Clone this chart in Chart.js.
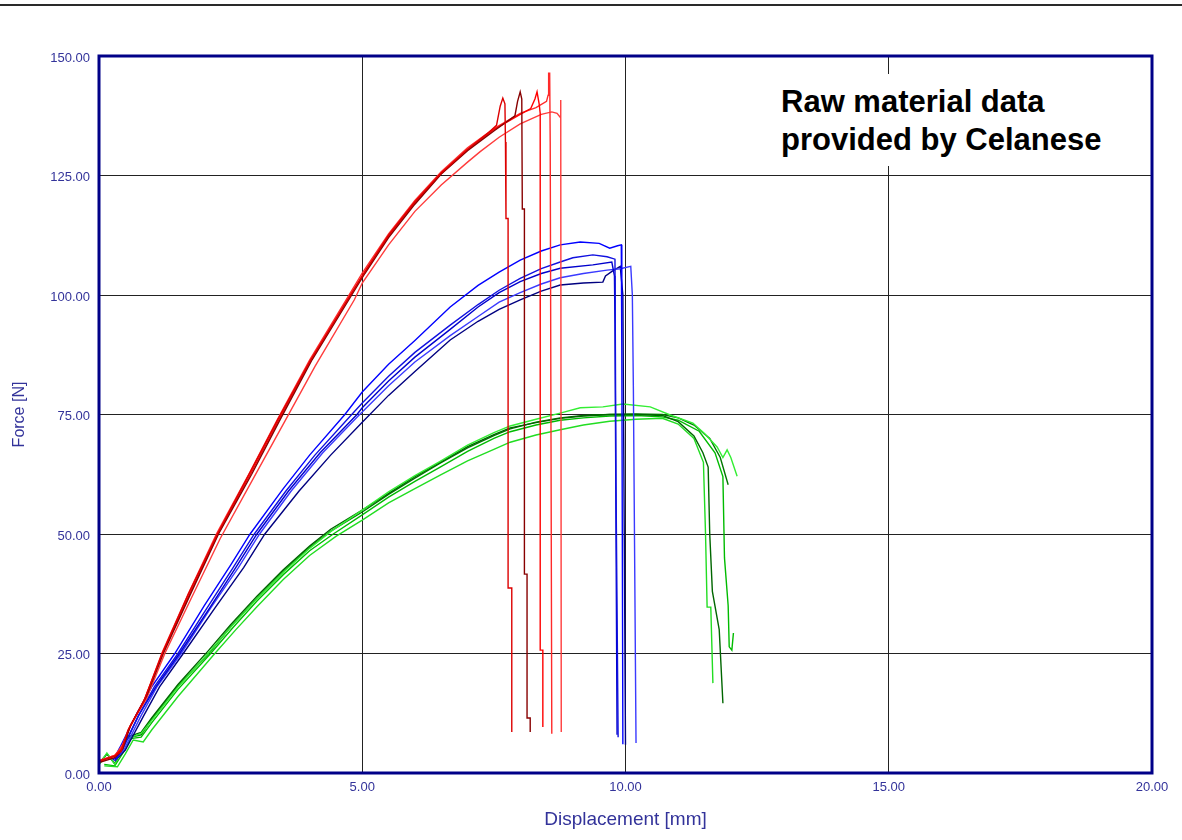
<!DOCTYPE html>
<html>
<head>
<meta charset="utf-8">
<script src="https://cdn.jsdelivr.net/npm/chart.js@4.4.0/dist/chart.umd.min.js"></script>
<style>
  html, body { margin: 0; padding: 0; background: #fff; }
  #wrap { position: relative; width: 1182px; height: 840px; overflow: hidden; }
  #topline { position: absolute; left: 0; top: 4px; width: 1182px; height: 2px; background: #2a2a2a; }
  #note {
    position: absolute; left: 772px; top: 74px; width: 350px; height: 92px;
    padding: 9px 0 0 9px; box-sizing: border-box; background: #fff;
    font: bold 31px "Liberation Sans", Arial, sans-serif; line-height: 38px; color: #000;
  }
</style>
</head>
<body>
<div id="wrap">
  <canvas id="chart" width="1182" height="840"></canvas>
  <div id="topline"></div>
  <div id="note">Raw material data<br>provided by Celanese</div>
</div>
<script>
// axis ticks
const xTicks = [0, 5, 10, 15, 20];
const yTicks = [0, 25, 50, 75, 100, 125, 150];

// red specimens [displacement mm, force N]
const redA = [[0,2.5],[0.3,3.5],[0.42,4.5],[0.55,9],[0.85,15],[1.2,25],[1.7,37.5],[2.25,50],[2.85,62.5],[3.4,74],[4.0,86],[4.75,99.5],[5.0,104],[5.5,112.5],[6.0,119.5],[6.5,125.5],[7.0,130.5],[7.4,134],[7.55,135.5],[7.62,139.5],[7.67,141.2],[7.71,140],[7.72,132],[7.73,116],[7.77,116],[7.77,38.7],[7.84,38.7],[7.84,8.6]];
const redB = [[0,2.2],[0.3,3.2],[0.45,5],[0.6,10],[0.9,16],[1.22,25],[1.72,37],[2.27,50],[2.9,62.5],[3.42,73.5],[4.05,86.5],[4.8,100],[5.05,104.5],[5.5,112],[6.0,119],[6.5,125.3],[7.0,130.2],[7.5,134.3],[7.9,137.5],[7.95,140.5],[8.0,142.5],[8.03,141],[8.04,118],[8.08,118],[8.08,41.6],[8.13,41.6],[8.13,11.5],[8.19,11.5],[8.19,8.6]];
const redC = [[0,2.4],[0.3,3.6],[0.43,5],[0.58,9.5],[0.87,15.5],[1.21,25],[1.71,37.2],[2.26,50],[2.88,62.6],[3.41,73.8],[4.02,86.2],[4.78,100],[5.02,104.3],[5.5,112.3],[6.0,119.3],[6.5,125.4],[7.0,130.4],[7.5,134.6],[8.0,137.8],[8.2,139],[8.28,141],[8.32,142.5],[8.36,140],[8.38,138],[8.38,25.7],[8.43,25.7],[8.43,9.6]];
const redD = [[0,2.6],[0.3,3.7],[0.44,5.5],[0.57,9.2],[0.86,15.2],[1.2,25.2],[1.7,37.6],[2.24,50.2],[2.86,62.8],[3.39,74],[4.0,86.4],[4.76,100.2],[5.0,104.6],[5.5,112.8],[6.0,119.8],[6.5,125.8],[7.0,130.8],[7.5,134.8],[8.0,138],[8.3,139.2],[8.5,140.5],[8.53,141.8],[8.54,146.4],[8.56,146.4],[8.57,132],[8.6,8.2]];
const redE = [[0,2.5],[0.32,3.8],[0.45,6],[0.6,10],[0.9,15.5],[1.25,25],[1.75,36.5],[2.3,49],[2.95,62],[3.5,73],[4.1,85],[4.85,99],[5.0,102.5],[5.5,110.5],[6.0,117.5],[6.5,123],[7.0,127.8],[7.24,130],[7.6,133],[8.0,135.8],[8.4,137.8],[8.6,138.3],[8.7,138],[8.76,137.2],[8.77,140.8],[8.78,8.6]];

// blue specimens
const blueA = [[0.27,2.7],[0.4,5.4],[0.72,12.5],[1.0,18],[1.44,25],[2.0,35],[2.5,43.5],[2.87,50],[3.5,59.5],[4.0,66.5],[4.67,75],[5.0,79.7],[5.5,85.5],[6.0,90.5],[6.67,97.5],[7.2,102],[7.6,104.8],[8.0,107.3],[8.4,109.2],[8.76,110.5],[9.14,111.1],[9.5,110.8],[9.7,109.8],[9.85,110.3],[9.92,110.5],[9.93,88.5],[9.95,6]];
const blueB = [[0.3,2.5],[0.45,5],[0.75,12],[1.05,18],[1.5,25],[2.05,34.5],[2.55,43],[2.95,50],[3.55,59],[4.1,66.5],[4.8,75],[5.0,77.4],[5.5,83],[6.0,88],[6.67,93.7],[7.2,98],[7.6,101],[8.0,103.5],[8.4,105.5],[8.76,106.9],[9.0,107.8],[9.38,108.4],[9.65,108],[9.8,107.5],[9.82,60],[9.86,7.5]];
const blueC = [[0.3,2.8],[0.45,5.2],[0.75,12],[1.08,18],[1.53,25],[2.1,34.5],[2.6,43],[3.0,50],[3.6,59],[4.2,67],[4.9,75],[5.0,76.4],[5.5,82],[6.0,87],[6.67,92.8],[7.2,97.5],[7.6,100.5],[8.0,102.8],[8.4,104.5],[8.76,105.6],[9.38,106.3],[9.74,106.9],[9.79,104],[9.8,94],[9.84,8]];
const blueD = [[0.3,2.6],[0.48,5],[0.8,12],[1.1,18],[1.56,25],[2.12,34.5],[2.65,43],[3.05,50],[3.65,59],[4.25,67],[4.95,75],[5.0,75.5],[5.5,81],[6.0,86],[6.67,91.5],[7.2,95.5],[7.6,98.5],[8.0,100.5],[8.4,102.3],[8.76,103.6],[9.2,104.5],[9.65,105.2],[9.9,105.5],[10.1,106],[10.13,100],[10.15,80],[10.2,6.3]];
const blueE = [[0.3,2.5],[0.5,4.8],[0.85,12],[1.15,18],[1.6,25],[2.2,34.5],[2.75,43],[3.15,50],[3.8,59],[4.4,66.5],[5.0,73.4],[5.5,79],[6.0,84],[6.67,90.6],[7.2,94.5],[7.6,97],[8.0,99],[8.4,100.8],[8.76,102.1],[9.2,102.5],[9.57,102.7],[9.62,104],[9.75,105],[9.9,106],[9.95,100],[10.0,5.9]];

// green specimens
const greenA = [[0,1.7],[0.15,4.2],[0.3,1.8],[0.5,7],[0.8,8.3],[1.0,11],[1.5,18],[2.07,25],[2.5,30.5],[3.0,36.5],[3.5,42],[4.0,47],[4.4,50.5],[5.0,55],[5.5,58.8],[6.0,62.2],[6.48,65.2],[7.0,68.6],[7.5,71.2],[7.81,72.6],[8.3,74],[8.76,75.3],[9.14,76.4],[9.57,76.6],[9.95,77.2],[10.47,76.6],[10.85,74.9],[11.28,73.2],[11.5,71],[11.74,68.2],[11.85,66],[11.93,67.6],[12.0,66],[12.12,62.1]];
const greenB = [[0,2],[0.15,4],[0.3,2],[0.53,7.5],[0.8,8.5],[1.0,11.5],[1.5,18.5],[2.07,25.5],[2.5,31],[3.0,37],[3.5,42.5],[4.0,47.5],[4.4,51],[5.0,55],[5.5,58.5],[6.0,62],[6.48,65],[7.0,68.3],[7.5,70.8],[7.81,72.2],[8.3,73.3],[8.76,74.2],[9.2,74.7],[9.7,75],[10.2,75],[10.7,74.8],[11.0,73.5],[11.3,70.5],[11.47,67],[11.57,64],[11.6,50],[11.65,38],[11.78,30],[11.85,14.6]];
const greenC = [[0.1,1.5],[0.35,1.3],[0.5,4],[0.65,6.9],[0.84,6.5],[1.0,9],[1.5,16],[2.2,25],[2.6,30],[3.0,34.8],[3.5,40.5],[4.0,45.5],[4.5,49.5],[5.0,52.9],[5.5,56.5],[6.0,59.5],[6.48,62.3],[7.0,65.3],[7.5,67.7],[7.81,69.2],[8.3,70.7],[8.76,71.8],[9.2,72.8],[9.7,73.6],[10.2,74],[10.7,74.2],[11.0,73],[11.3,70],[11.48,65],[11.52,50],[11.55,34.7],[11.62,34.7],[11.66,18.8]];
const greenD = [[0.1,1.8],[0.3,1.5],[0.5,5],[0.6,7.2],[0.8,7.5],[1.0,10.5],[1.5,17.5],[2.12,25],[2.55,30.5],[3.0,36],[3.5,41.5],[4.0,46.5],[4.45,50],[5.0,54],[5.5,57.7],[6.0,61],[6.48,64],[7.0,67.3],[7.5,70],[7.81,71.4],[8.3,72.8],[8.76,73.8],[9.2,74.3],[9.7,74.7],[10.2,74.8],[10.7,74.5],[11.0,73.8],[11.4,71.5],[11.7,67],[11.85,62],[11.88,45],[11.95,35],[11.97,26.4],[12.02,25.7],[12.05,29.3]];
const greenE = [[0,1.8],[0.15,4],[0.3,1.9],[0.53,7.3],[0.8,8],[1.0,11.2],[1.5,18.2],[2.1,25.2],[2.5,30.6],[3.0,36.6],[3.5,42.2],[4.0,47.2],[4.4,50.6],[5.0,54.6],[5.5,58.3],[6.0,61.7],[6.48,64.8],[7.0,68],[7.5,70.6],[7.81,72],[8.3,73.4],[8.76,74.3],[9.2,74.8],[9.7,75],[10.2,75.1],[10.7,75],[11.0,74.3],[11.3,72.8],[11.6,70],[11.8,66],[11.95,60.3]];

const series = [
  [redA, '#dd0000'], [redB, '#880000'], [redC, '#ff0000'], [redD, '#ff2a2a'], [redE, '#ff3c3c'],
  [blueA, '#0000ff'], [blueB, '#1010e0'], [blueC, '#0000cc'], [blueD, '#3a3aff'], [blueE, '#000080'],
  [greenA, '#33ee33'], [greenB, '#006600'], [greenC, '#22dd22'], [greenD, '#00bb00'], [greenE, '#007700']
];

const axisColor = '#33339a';
const fontFamily = '"Liberation Sans", Arial, sans-serif';

// navy frame round the plot area, like the original software draws it
const frameBorder = {
  id: 'frameBorder',
  afterDatasetsDraw(chart) {
    const { ctx, chartArea: a } = chart;
    ctx.save();
    ctx.strokeStyle = '#000088';
    ctx.lineWidth = 3;
    ctx.strokeRect(a.left, a.top, a.right - a.left, a.bottom - a.top);
    ctx.restore();
  }
};

new Chart(document.getElementById('chart'), {
  type: 'scatter',
  data: {
    datasets: series.map(([pts, color]) => ({
      data: pts.map(([x, y]) => ({ x, y })),
      borderColor: color,
      borderWidth: 1.4,
      showLine: true,
      pointRadius: 0,
      tension: 0
    }))
  },
  options: {
    responsive: false,
    animation: false,
    devicePixelRatio: 1,
    layout: { padding: { left: 0, right: 30, top: 56, bottom: 0 } },
    plugins: { legend: { display: false }, tooltip: { enabled: false } },
    scales: {
      x: {
        type: 'linear', min: 0, max: 20,
        afterBuildTicks: s => { s.ticks = xTicks.map(v => ({ value: v })); },
        ticks: { callback: v => v.toFixed(2), color: axisColor, font: { family: fontFamily, size: 13 }, padding: 7, maxRotation: 0 },
        grid: { color: '#222', lineWidth: 1, drawTicks: false },
        border: { display: false },
        title: { display: true, text: 'Displacement [mm]', color: axisColor, font: { family: fontFamily, size: 19 }, padding: { top: 0, bottom: 9 } },
        afterFit: s => { s.height = 67; s.paddingLeft = 0; s.paddingRight = 0; }
      },
      y: {
        min: 0, max: 150,
        afterBuildTicks: s => { s.ticks = yTicks.map(v => ({ value: v })); },
        ticks: { callback: v => v.toFixed(2), color: axisColor, font: { family: fontFamily, size: 13 }, padding: 9, labelOffset: 2 },
        grid: { color: '#222', lineWidth: 1, drawTicks: false },
        border: { display: false },
        title: { display: true, text: 'Force [N]', color: axisColor, font: { family: fontFamily, size: 16 }, padding: { top: 10, bottom: 0 } },
        afterFit: s => { s.width = 99; s.paddingTop = 0; s.paddingBottom = 0; }
      }
    }
  },
  plugins: [frameBorder]
});
</script>
</body>
</html>
